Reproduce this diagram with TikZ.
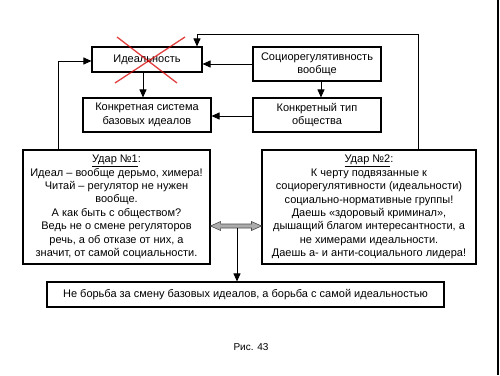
\documentclass[tikz,border=0pt]{standalone}
\usepackage{fontspec}
\setmainfont{Liberation Sans}
\usetikzlibrary{arrows.meta,calc}
\begin{document}
\begin{tikzpicture}[x=1pt,y=-1pt,
  box/.style={draw=black,line width=1.1pt,fill=white,inner sep=1pt,align=center,
    font=\fontsize{11}{13.4}\selectfont},
  conn/.style={line width=0.9pt,-{Triangle[length=8pt,width=7pt]}},
  line/.style={line width=0.9pt}]
\useasboundingbox (0,0) rectangle (500,375);
\fill[white] (0,0) rectangle (500,375);
\draw[line width=1.2pt] (498,0) -- (498,375);

\node[box,minimum width=110pt,minimum height=25pt] (ideal) at (147,59.5) {Идеальность};
\node[box,minimum width=128pt,minimum height=34pt] (socio) at (317,64) {Социорегулятивность\\вообще};
\node[box,minimum width=128pt,minimum height=34pt] (sys) at (147,115) {Конкретная система\\базовых идеалов};
\node[box,minimum width=128pt,minimum height=34pt] (type) at (317,115) {Конкретный тип\\общества};
\node[box,minimum width=187pt,minimum height=114pt] (u1) at (116.5,207)
 {\underline{Удар №1}:\\Идеал – вообще дерьмо, химера!\\Читай – регулятор не нужен\\вообще.\\А как быть с обществом?\\Ведь не о смене регуляторов\\речь, а об отказе от них, а\\значит, от самой социальности.};
\node[box,minimum width=214pt,minimum height=114pt] (u2) at (369,207)
 {\underline{Удар №2}:\\К черту подвязанные к\\социорегулятивности (идеальности)\\социально-нормативные группы!\\Даешь «здоровый криминал»,\\дышащий благом интересантности, а\\не химерами идеальности.\\Даешь а- и анти-социального лидера!};
\node[box,minimum width=397pt,minimum height=25pt] (bot) at (245.5,294.5)
 {Не борьба за смену базовых идеалов, а борьба с самой идеальностью};
\node[font=\fontsize{10}{12}\selectfont] (cap) at (251,347) {Рис. 43};

% red cross
\draw[red!85!black,opacity=0.75,line width=1.3pt] (117,37) -- (177,83);
\draw[red!85!black,opacity=0.75,line width=1.3pt] (185,37) -- (115,83);

% connectors
\draw[conn] (socio.west) -- (socio.west -| ideal.east);
\draw[conn] ([xshift=-4pt]ideal.south) -- ([xshift=-4pt]ideal.south |- sys.north);
\draw[conn] ([xshift=4pt]socio.south) -- ([xshift=4pt]socio.south |- type.north);
\draw[conn] ([yshift=-1pt]type.west) -- ([yshift=-1pt]type.west -| sys.east);
\coordinate (t1) at ($(u2.north)+(49,0)$);
\draw[conn] (t1) -- (t1 |- 0,34) -| ([xshift=50pt]ideal.north);
\coordinate (l1) at ($(u1.north)+(-58.5,0)$);
\draw[conn] (l1) |- ([yshift=-1.5pt]ideal.west);

% gray double arrow
\coordinate (da) at (u1.east |- 0,226);
\coordinate (db) at (u2.west |- 0,226);
\fill[gray!65,draw=black!70,line width=0.6pt]
  (da) -- ($(da)+(10,-4.5)$) -- ($(da)+(10,-2)$) -- ($(db)+(-10,-2)$) -- ($(db)+(-10,-4.5)$)
  -- (db) -- ($(db)+(-10,4.5)$) -- ($(db)+(-10,2)$) -- ($(da)+(10,2)$) -- ($(da)+(10,4.5)$) -- cycle;
\coordinate (dm) at (237,228);
\draw[conn] (dm) -- (dm |- bot.north);
\end{tikzpicture}
\end{document}
